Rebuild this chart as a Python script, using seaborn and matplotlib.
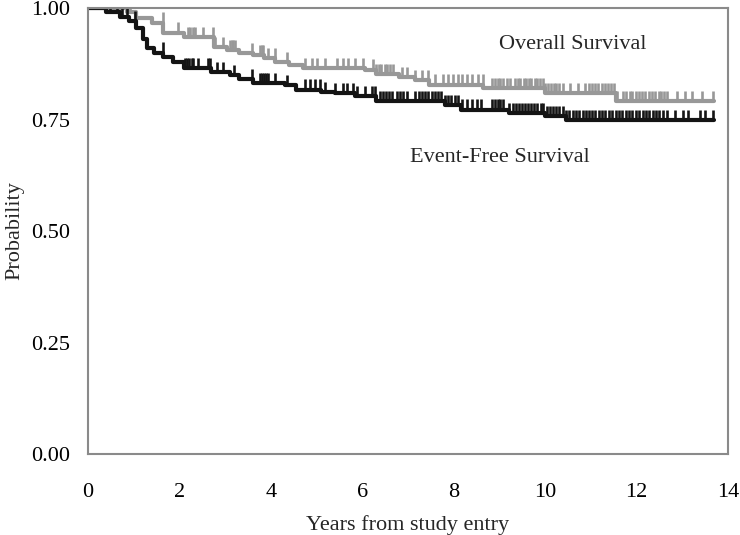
import numpy as np
import pandas as pd
import matplotlib
matplotlib.use("Agg")
import matplotlib.pyplot as plt
import seaborn as sns

# Kaplan-Meier step points (years, probability)
os_time = [0, 0.85, 1.05, 1.4, 1.65, 2.1, 2.75, 3.05, 3.3, 3.6, 3.85, 4.1, 4.4, 4.7,
           6.05, 6.3, 6.8, 7.15, 7.45, 8.65, 10.0, 11.55, 13.7]
os_surv = [1.0, 0.99, 0.978, 0.967, 0.945, 0.935, 0.913, 0.906, 0.899, 0.895, 0.888,
           0.879, 0.872, 0.866, 0.862, 0.852, 0.845, 0.839, 0.828, 0.82, 0.81, 0.792, 0.792]

efs_time = [0, 0.4, 0.7, 0.9, 1.05, 1.2, 1.3, 1.45, 1.65, 1.85, 2.1, 2.7, 3.1, 3.3, 3.6,
            4.3, 4.55, 5.1, 5.4, 5.85, 6.3, 7.8, 8.15, 9.2, 10.0, 10.45, 13.7]
efs_surv = [1.0, 0.99, 0.98, 0.97, 0.955, 0.93, 0.91, 0.9, 0.89, 0.88, 0.866, 0.856, 0.85,
            0.84, 0.832, 0.827, 0.817, 0.812, 0.81, 0.802, 0.792, 0.782, 0.772, 0.765,
            0.758, 0.748, 0.748]

# censoring times (tick marks)
os_cens = [0.48, 0.59, 0.7, 0.79, 0.92, 1.64, 1.97, 2.19, 2.24, 2.29, 2.34, 2.52, 2.74,
           2.78, 2.95, 3.1, 3.14, 3.18, 3.21, 3.59, 3.76, 3.8, 3.83, 3.94, 4.09, 4.35, 4.75,
           4.9, 5.01, 5.19, 5.45, 5.58, 5.69, 5.84, 6.02, 6.24, 6.3, 6.37, 6.42, 6.49, 6.55,
           6.61, 6.67, 6.87, 6.98, 7.16, 7.31, 7.44, 7.59, 7.77, 7.88, 7.99, 8.1, 8.18, 8.29,
           8.4, 8.53, 8.64, 8.84, 8.9, 8.97, 9.02, 9.08, 9.17, 9.23, 9.34, 9.41, 9.46, 9.53,
           9.58, 9.65, 9.7, 9.77, 9.82, 9.88, 9.95, 10.0, 10.07, 10.12, 10.19, 10.24, 10.31,
           10.39, 10.55, 10.72, 10.88, 10.95, 11.03, 11.09, 11.16, 11.24, 11.3, 11.37, 11.45,
           11.51, 11.58, 11.7, 11.77, 11.85, 11.91, 11.98, 12.06, 12.12, 12.19, 12.27, 12.33,
           12.4, 12.48, 12.54, 12.61, 12.67, 12.89, 13.06, 13.22, 13.43, 13.68]

efs_cens = [0.48, 0.63, 0.74, 0.85, 1.03, 1.64, 2.12, 2.17, 2.22, 2.27, 2.3, 2.41, 2.63,
            2.67, 2.82, 2.95, 3.2, 3.59, 3.76, 3.8, 3.85, 3.9, 3.94, 4.09, 4.35, 4.75, 4.86,
            4.97, 5.08, 5.19, 5.4, 5.58, 5.67, 5.8, 5.89, 6.06, 6.21, 6.28, 6.39, 6.45, 6.52,
            6.58, 6.65, 6.76, 6.82, 6.9, 6.98, 7.16, 7.23, 7.3, 7.37, 7.44, 7.52, 7.59, 7.66,
            7.73, 7.81, 7.88, 7.95, 8.03, 8.1, 8.18, 8.29, 8.4, 8.5, 8.6, 8.84, 8.9, 8.96,
            9.02, 9.08, 9.2, 9.3, 9.37, 9.43, 9.5, 9.56, 9.63, 9.69, 9.76, 9.83, 9.9, 9.96,
            10.03, 10.1, 10.17, 10.24, 10.31, 10.38, 10.45, 10.52, 10.6, 10.67, 10.74, 10.82,
            10.89, 10.96, 11.03, 11.1, 11.18, 11.25, 11.32, 11.4, 11.47, 11.55, 11.62, 11.69,
            11.77, 11.84, 11.91, 11.99, 12.06, 12.13, 12.21, 12.28, 12.36, 12.43, 12.5,
            12.58, 12.67, 12.84, 13.02, 13.13, 13.39, 13.5, 13.68]

GRAY = "#989898"
BLACK = "#141414"
AXIS_GRAY = "#8a8a8a"
FS = 16

sns.set_style("white")
plt.rcParams["font.family"] = ["Liberation Serif", "DejaVu Serif"]

fig = plt.figure(figsize=(7.4, 5.35), dpi=100)
ax = fig.add_axes([0.1189, 0.1514, 0.8649, 0.8336])


def step_value(times, surv, t):
    idx = np.searchsorted(times, t, side="right") - 1
    return np.asarray(surv)[idx]


curves = [
    (os_time, os_surv, os_cens, GRAY),
    (efs_time, efs_surv, efs_cens, BLACK),
]
for times, surv, cens, color in curves:
    df = pd.DataFrame({"t": times, "s": surv})
    sns.lineplot(data=df, x="t", y="s", ax=ax, color=color, linewidth=3.0,
                 drawstyle="steps-post", estimator=None)
    base = step_value(times, surv, np.array(cens))
    ax.vlines(cens, base, base + 0.023, color=color, linewidth=1.9)

ax.text(10.6, 0.919, "Overall Survival", fontsize=FS, ha="center", va="center")
ax.text(9.02, 0.664, "Event-Free Survival", fontsize=FS, ha="center", va="center")

ax.set_xlim(0, 14)
ax.set_ylim(0, 1)
ax.set_xticks(range(0, 15, 2))
ax.set_yticks([0, 0.25, 0.5, 0.75, 1.0])
ax.set_yticklabels(["0.00", "0.25", "0.50", "0.75", "1.00"])
ax.tick_params(axis="both", direction="out", length=5, width=1.5, color=AXIS_GRAY,
               labelsize=FS, labelcolor="black")
ax.tick_params(axis="x", pad=16)
ax.tick_params(axis="y", pad=8)
for sp in ax.spines.values():
    sp.set_visible(True)
    sp.set_color(AXIS_GRAY)
    sp.set_linewidth(1.5)

ax.set_xlabel("Years from study entry", fontsize=FS, labelpad=9)
ax.set_ylabel("Probability", fontsize=FS, labelpad=5)

fig.savefig("out.png", dpi=100)
